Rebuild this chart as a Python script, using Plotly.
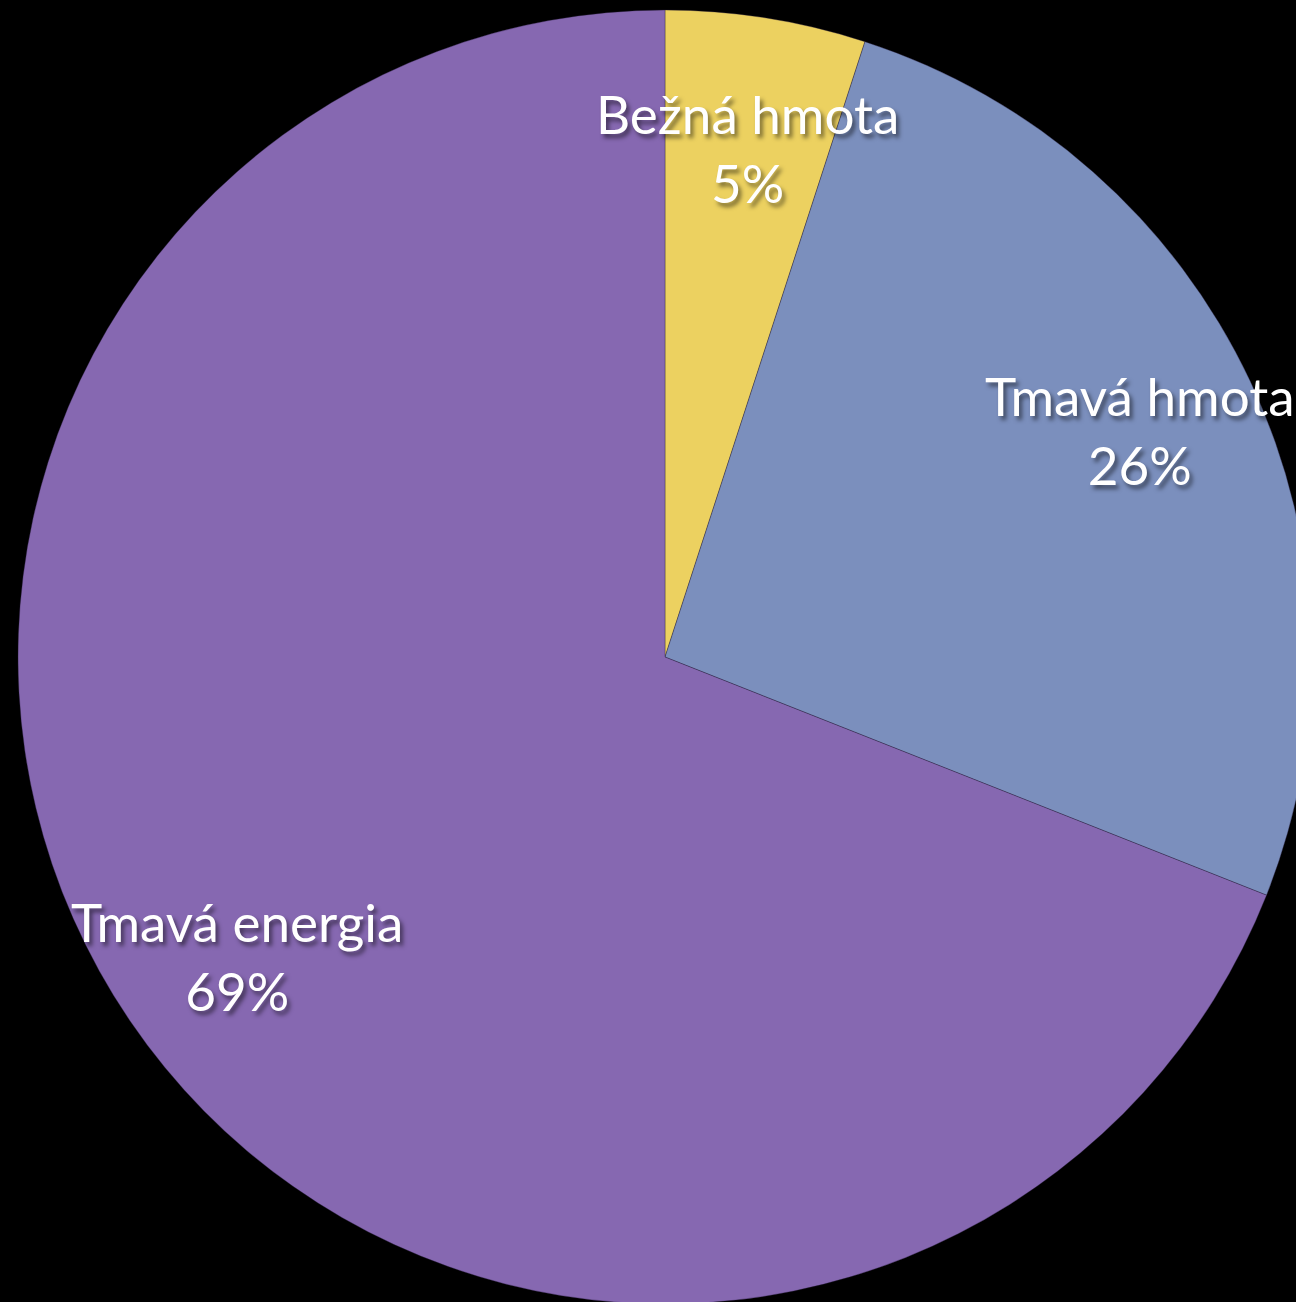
import plotly.graph_objects as go

labels = ["Bežná hmota", "Tmavá hmota", "Tmavá energia"]
values = [5, 26, 69]
colors = ["#ECD160", "#7B8FBD", "#8668B1"]

# label anchor positions (pixels from top-left of the visible page)
label_px = [(747, 148), (1140, 430), (237, 956)]

W, H = 1330, 1314
cx, cy, r = 665, 657, 647

fig = go.Figure(go.Pie(
    labels=labels,
    values=values,
    marker=dict(colors=colors, line=dict(color="rgba(40,30,60,0.35)", width=1)),
    sort=False,
    direction="clockwise",
    rotation=0,
    textinfo="none",
    hoverinfo="label+percent",
    showlegend=False,
    domain=dict(x=[(cx - r) / W, (cx + r) / W], y=[(H - cy - r) / H, (H - cy + r) / H]),
))

for lab, v, (px, py) in zip(labels, values, label_px):
    fig.add_annotation(
        x=px / W, y=1 - py / H, xref="paper", yref="paper",
        text=f"{lab}<br>{v}%", showarrow=False, align="center",
        xanchor="center", yanchor="middle",
        font=dict(family="Lato, Open Sans, sans-serif", size=53, color="white",
                  shadow="3px 4px 4px rgba(0,0,0,0.5)"),
    )

fig.update_layout(
    width=W, height=H,
    margin=dict(l=0, r=0, t=0, b=0),
    paper_bgcolor="black",
    plot_bgcolor="black",
)

fig.write_html(
    "out.html",
    config={"displayModeBar": False},
    post_script="document.body.style.margin='0';document.body.style.overflow='hidden';document.body.style.background='black';document.documentElement.style.overflow='hidden';",
)
